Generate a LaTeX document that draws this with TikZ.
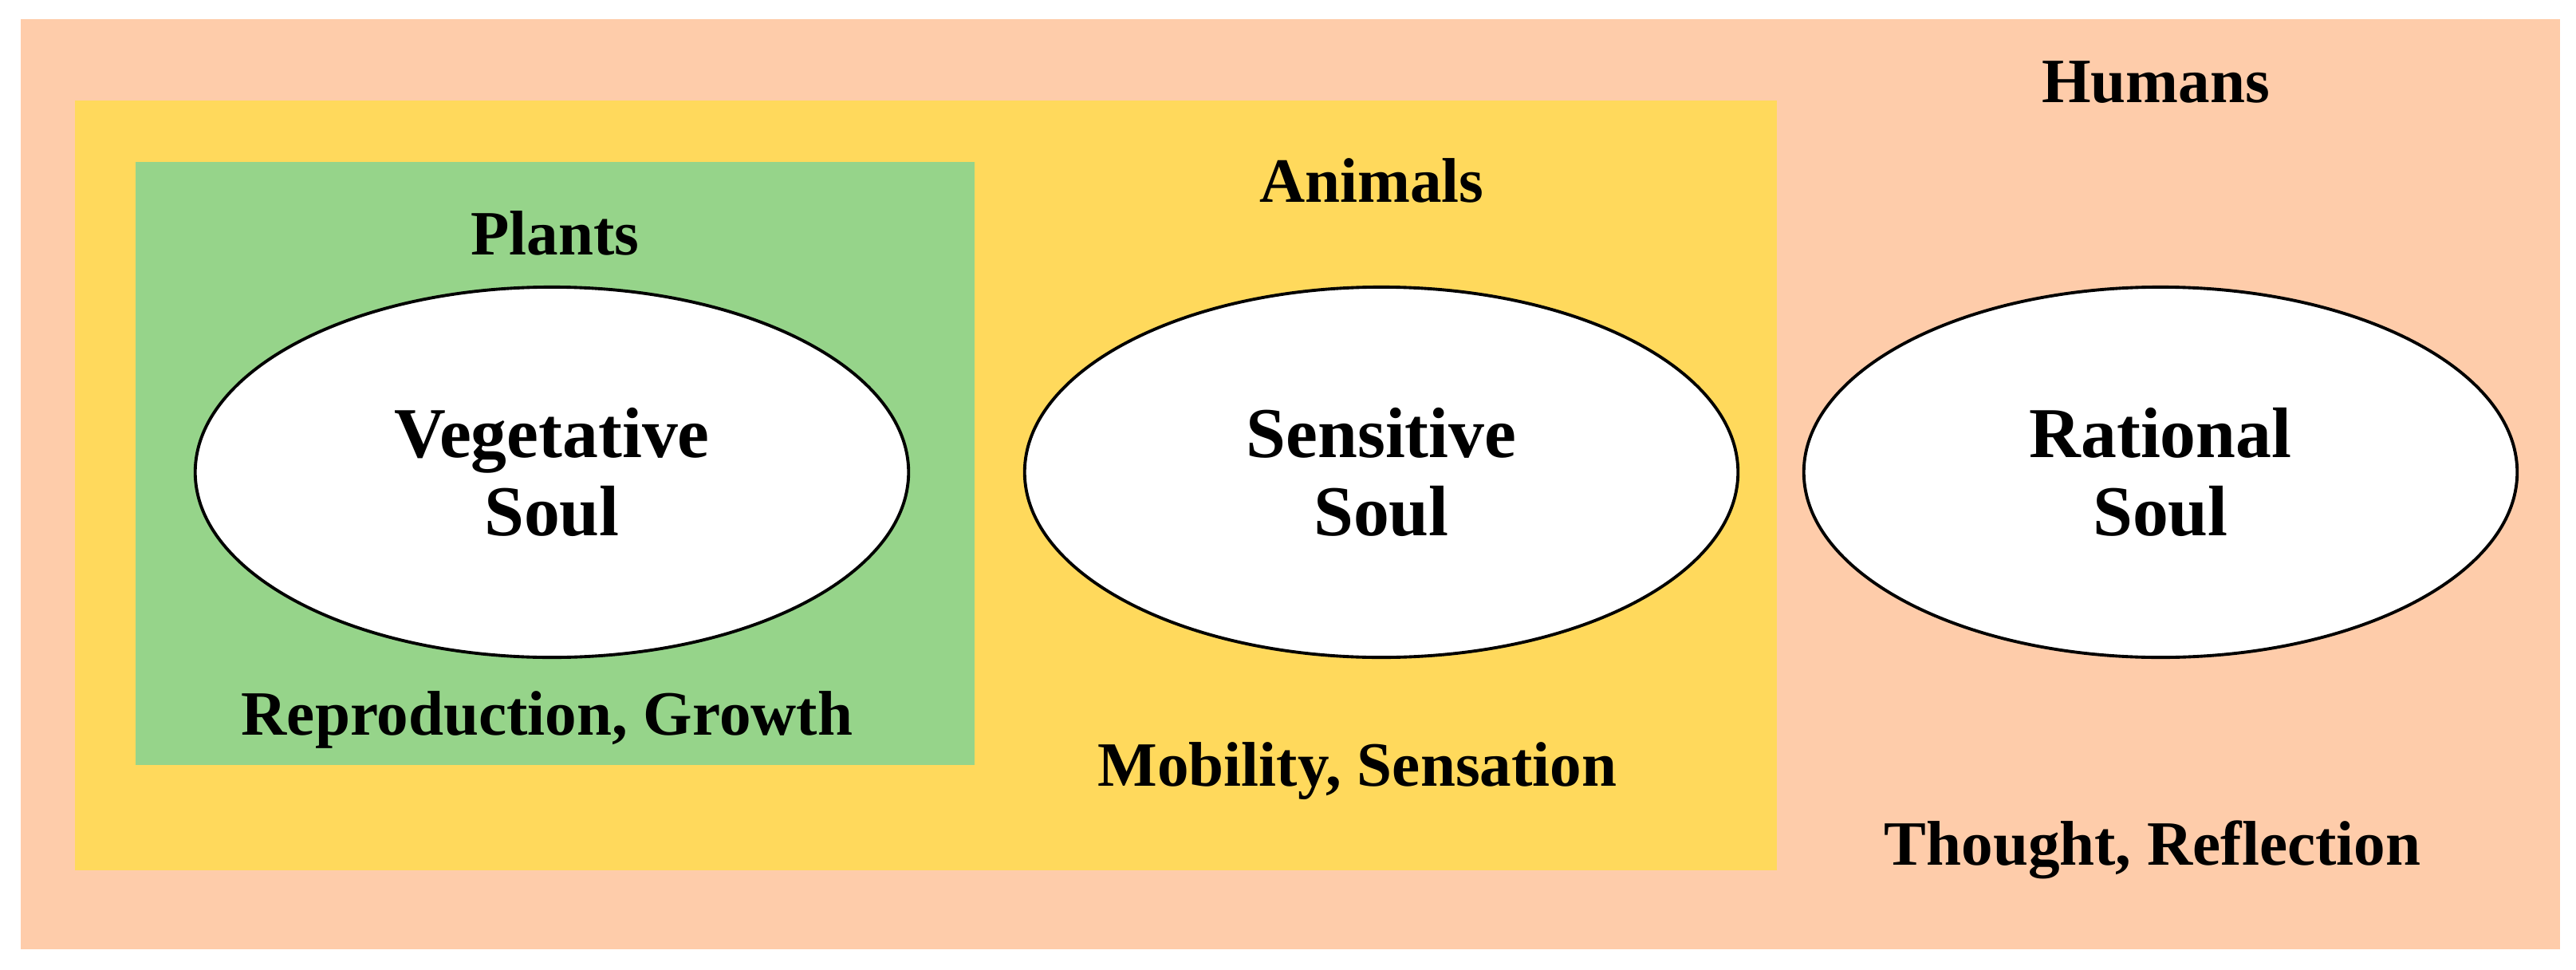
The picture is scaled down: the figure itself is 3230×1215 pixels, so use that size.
\documentclass[tikz,border=0pt]{standalone}
\usepackage{fontspec}
\setmainfont{Liberation Serif}
\usetikzlibrary{shapes.geometric,positioning}
\definecolor{HumanPeach}{RGB}{254,204,170}
\definecolor{AnimalYellow}{RGB}{255,217,92}
\definecolor{PlantGreen}{RGB}{150,212,138}

\begin{document}
\begin{tikzpicture}[x=0.01cm, y=-0.01cm,
    soul/.style={ellipse, draw=black, line width=1.1pt, fill=white,
        minimum width=8.94cm, minimum height=4.64cm, inner sep=0pt,
        align=center, font=\fontsize{25.5}{28}\selectfont\bfseries},
    grouptext/.style={anchor=base, font=\fontsize{22.5}{26}\selectfont\bfseries}]
    \useasboundingbox[fill=white] (0,0) rectangle (3230,1215);

    % Nested regions
    \fill[HumanPeach] (26,24) rectangle (3210,1190);
    \fill[AnimalYellow] (94,126) rectangle (2228,1091);
    \fill[PlantGreen] (170,203) rectangle (1222,959);

    % Souls
    \node[soul] (vegetative) at (692,592) {Vegetative\\Soul};
    \node[soul] (sensitive) at (1732,592) {Sensitive\\Soul};
    \node[soul] (rational) at (2709,592) {Rational\\Soul};

    % Group names
    \node[grouptext] (humans) at (2703,128) {Humans};
    \node[grouptext] (animals) at (1720,253) {Animals};
    \node[grouptext] (plants) at (696,319) {Plants};

    % Faculties
    \node[grouptext] (growth) at (686,921) {Reproduction, Growth};
    \node[grouptext] (sensation) at (1702,985) {Mobility, Sensation};
    \node[grouptext] (reflection) at (2699,1084) {Thought, Reflection};
\end{tikzpicture}
\end{document}
